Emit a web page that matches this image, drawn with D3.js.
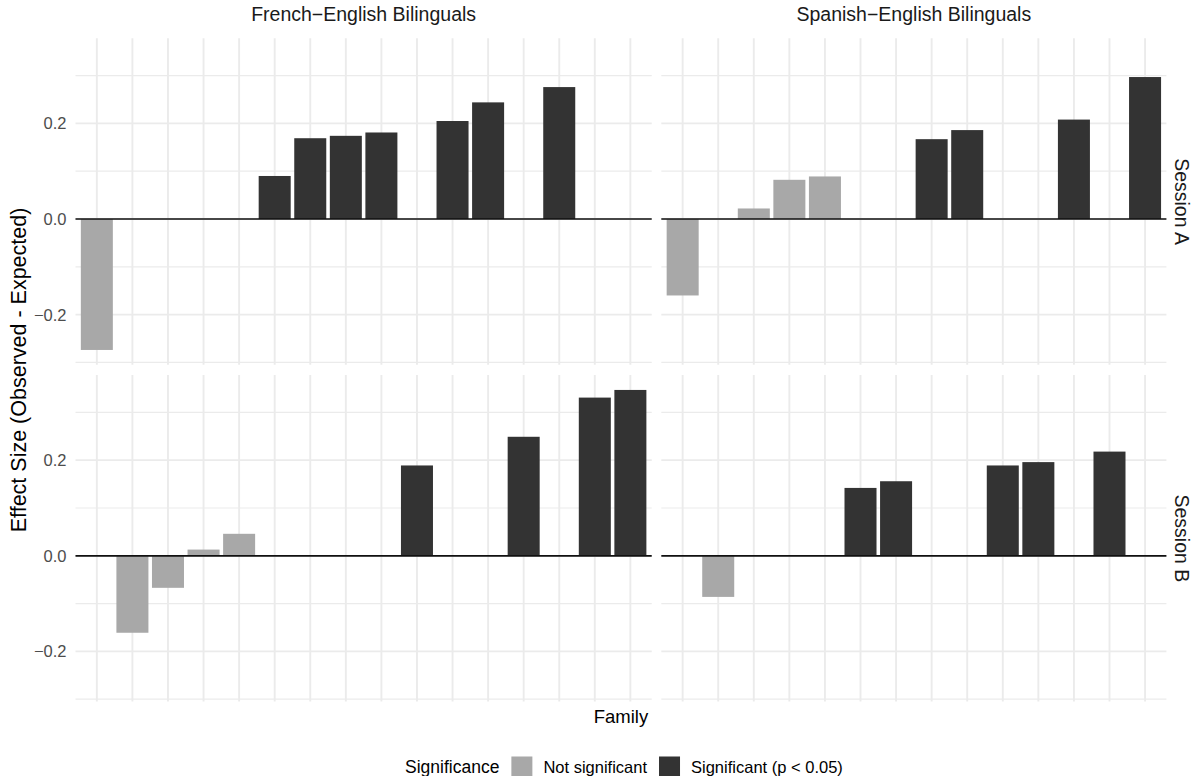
<!DOCTYPE html>
<html>
<head>
<meta charset="utf-8">
<script src="https://cdn.jsdelivr.net/npm/d3@7"></script>
<style>
  html, body { margin: 0; padding: 0; background: #ffffff; }
  svg { display: block; font-family: "Liberation Sans", Arial, Helvetica, sans-serif; }
</style>
</head>
<body>
<svg id="chart" width="1195" height="776"></svg>
<script>
// ---- Facets -------------------------------------------------------------
const groups   = ["French−English Bilinguals", "Spanish−English Bilinguals"];
const sessions = ["Session A", "Session B"];

// ---- Families on each group's x axis (free x, proportional width) --------
const frenchFamilies  = ["FR01","FR02","FR03","FR04","FR05","FR06","FR07","FR08",
                         "FR09","FR10","FR11","FR12","FR13","FR14","FR15","FR16"];
const spanishFamilies = ["SP01","SP02","SP03","SP04","SP05","SP06","SP07",
                         "SP08","SP09","SP10","SP11","SP12","SP13","SP14"];

// ---- Effect sizes (observed - expected); sig: 1 = p < 0.05 ---------------
const frA_family = ["FR01","FR06","FR07","FR08","FR09","FR11","FR12","FR14"];
const frA_effect = [-0.274, 0.090, 0.169, 0.174, 0.181, 0.205, 0.244, 0.276];
const frA_sig    = [0, 1, 1, 1, 1, 1, 1, 1];

const frB_family = ["FR02","FR03","FR04","FR05","FR10","FR13","FR15","FR16"];
const frB_effect = [-0.161, -0.067, 0.013, 0.046, 0.189, 0.249, 0.331, 0.347];
const frB_sig    = [0, 0, 0, 0, 1, 1, 1, 1];

const spA_family = ["SP01","SP03","SP04","SP05","SP08","SP09","SP12","SP14"];
const spA_effect = [-0.160, 0.022, 0.082, 0.089, 0.167, 0.186, 0.208, 0.297];
const spA_sig    = [0, 0, 0, 0, 1, 1, 1, 1];

const spB_family = ["SP02","SP06","SP07","SP10","SP11","SP13"];
const spB_effect = [-0.086, 0.142, 0.156, 0.189, 0.196, 0.218];
const spB_sig    = [0, 1, 1, 1, 1, 1];

// ---- Axis ticks and legend ----------------------------------------------
const majorTicks   = [-0.2, 0.0, 0.2];
const minorTicks   = [-0.3, -0.1, 0.1, 0.3];
const sigLabels    = ["Not significant", "Significant (p < 0.05)"];
const sigColors    = ["#a8a8a8", "#333333"];
const legendTitle  = "Significance";
const xTitle       = "Family";
const yTitle       = "Effect Size (Observed - Expected)";

// ---- Assemble rows --------------------------------------------------------
function rows(fam, eff, sig, group, session) {
  return fam.map((f, i) => ({ family: f, effect: eff[i], sig: sig[i], group, session }));
}
const data = [
  ...rows(frA_family, frA_effect, frA_sig, groups[0], sessions[0]),
  ...rows(frB_family, frB_effect, frB_sig, groups[0], sessions[1]),
  ...rows(spA_family, spA_effect, spA_sig, groups[1], sessions[0]),
  ...rows(spB_family, spB_effect, spB_sig, groups[1], sessions[1])
];
const familiesByGroup = { [groups[0]]: frenchFamilies, [groups[1]]: spanishFamilies };

// ---- Layout ---------------------------------------------------------------
const plotLeft = 75.5, plotRight = 1166.4, plotTop = 38.3;
const panelH = 326.5, rowGap = 10.3, colGap = 9.6;
const gridColor = "#ebebeb";
const stripSize = 19.5, tickSize = 16.5, xTitleSize = 18.5, yTitleSize = 21.5;

const totalUnits = frenchFamilies.length + 0.2 + spanishFamilies.length + 0.2;
const step = (plotRight - plotLeft - colGap) / totalUnits;

const xScales = {};
let xCursor = plotLeft;
groups.forEach(g => {
  const fams = familiesByGroup[g];
  const w = (fams.length + 0.2) * step;
  xScales[g] = d3.scaleBand().domain(fams).range([xCursor, xCursor + w])
                 .paddingInner(0.1).paddingOuter(0.15);
  xCursor += w + colGap;
});

const lo = Math.min(0, d3.min(data, d => d.effect));
const hi = Math.max(0, d3.max(data, d => d.effect));
const pad = (hi - lo) * 0.05;
const y = d3.scaleLinear().domain([lo - pad, hi + pad]).range([panelH, 0]);

const color = d3.scaleOrdinal().domain([0, 1]).range(sigColors);

const svg = d3.select("#chart");

// ---- Panels ---------------------------------------------------------------
sessions.forEach((s, ri) => {
  const top = plotTop + ri * (panelH + rowGap);
  groups.forEach(g => {
    const x = xScales[g];
    const [x0, x1] = x.range();
    const p = svg.append("g").attr("transform", `translate(0,${top})`);

    // horizontal grid (minor, then major)
    p.selectAll("line.minor").data(minorTicks).join("line")
      .attr("x1", x0).attr("x2", x1)
      .attr("y1", d => y(d)).attr("y2", d => y(d))
      .attr("stroke", gridColor).attr("stroke-width", 1.2);
    p.selectAll("line.major").data(majorTicks).join("line")
      .attr("x1", x0).attr("x2", x1)
      .attr("y1", d => y(d)).attr("y2", d => y(d))
      .attr("stroke", gridColor).attr("stroke-width", 1.8);
    // vertical grid at every family
    p.selectAll("line.vgrid").data(x.domain()).join("line")
      .attr("x1", d => x(d) + x.bandwidth() / 2).attr("x2", d => x(d) + x.bandwidth() / 2)
      .attr("y1", 0).attr("y2", panelH)
      .attr("stroke", gridColor).attr("stroke-width", 1.9);

    // bars
    const pd = data.filter(d => d.group === g && d.session === s);
    p.selectAll("rect.bar").data(pd).join("rect")
      .attr("x", d => x(d.family))
      .attr("width", x.bandwidth())
      .attr("y", d => y(Math.max(0, d.effect)))
      .attr("height", d => Math.abs(y(d.effect) - y(0)))
      .attr("fill", d => color(d.sig));

    // zero reference line
    p.append("line")
      .attr("x1", x0).attr("x2", x1)
      .attr("y1", y(0)).attr("y2", y(0))
      .attr("stroke", "#111111").attr("stroke-width", 1.7);
  });

  // y axis tick labels
  svg.append("g").selectAll("text").data(majorTicks).join("text")
    .attr("x", plotLeft - 9).attr("y", d => top + y(d))
    .attr("dy", "0.36em").attr("text-anchor", "end")
    .attr("font-size", tickSize).attr("fill", "#4d4d4d")
    .text(d => d3.format(".1f")(d));

  // row strip
  const cy = top + panelH / 2;
  svg.append("text")
    .attr("transform", `translate(${plotRight + 16},${cy}) rotate(90)`)
    .attr("text-anchor", "middle").attr("dy", "0.36em")
    .attr("font-size", stripSize).attr("fill", "#1a1a1a")
    .text(s);
});

// column strips
groups.forEach(g => {
  const [x0, x1] = xScales[g].range();
  svg.append("text")
    .attr("x", (x0 + x1) / 2).attr("y", 14)
    .attr("text-anchor", "middle").attr("dy", "0.36em")
    .attr("font-size", stripSize).attr("fill", "#1a1a1a")
    .text(g);
});

// axis titles
const plotBottom = plotTop + 2 * panelH + rowGap;
svg.append("text")
  .attr("x", (plotLeft + plotRight) / 2).attr("y", plotBottom + 15)
  .attr("text-anchor", "middle").attr("dy", "0.36em")
  .attr("font-size", xTitleSize).attr("fill", "#000000")
  .text(xTitle);
svg.append("text")
  .attr("transform", `translate(18,${(plotTop + plotBottom) / 2}) rotate(-90)`)
  .attr("text-anchor", "middle").attr("dy", "0.36em")
  .attr("font-size", yTitleSize).attr("fill", "#000000")
  .text(yTitle);

// ---- Legend ---------------------------------------------------------------
const legY = 767, keySize = 21;
const leg = svg.append("g");
let lx = 405;
const t = leg.append("text").attr("x", lx).attr("y", legY).attr("dy", "0.36em")
  .attr("font-size", 17.5).attr("fill", "#000000").text(legendTitle);
lx += t.node().getComputedTextLength() + 12;
sigLabels.forEach((lab, i) => {
  leg.append("rect").attr("x", lx).attr("y", legY - keySize / 2)
    .attr("width", keySize).attr("height", keySize).attr("fill", sigColors[i]);
  lx += keySize + 11;
  const tt = leg.append("text").attr("x", lx).attr("y", legY).attr("dy", "0.36em")
    .attr("font-size", tickSize).attr("fill", "#000000").text(lab);
  lx += tt.node().getComputedTextLength() + 12;
});
</script>
</body>
</html>
